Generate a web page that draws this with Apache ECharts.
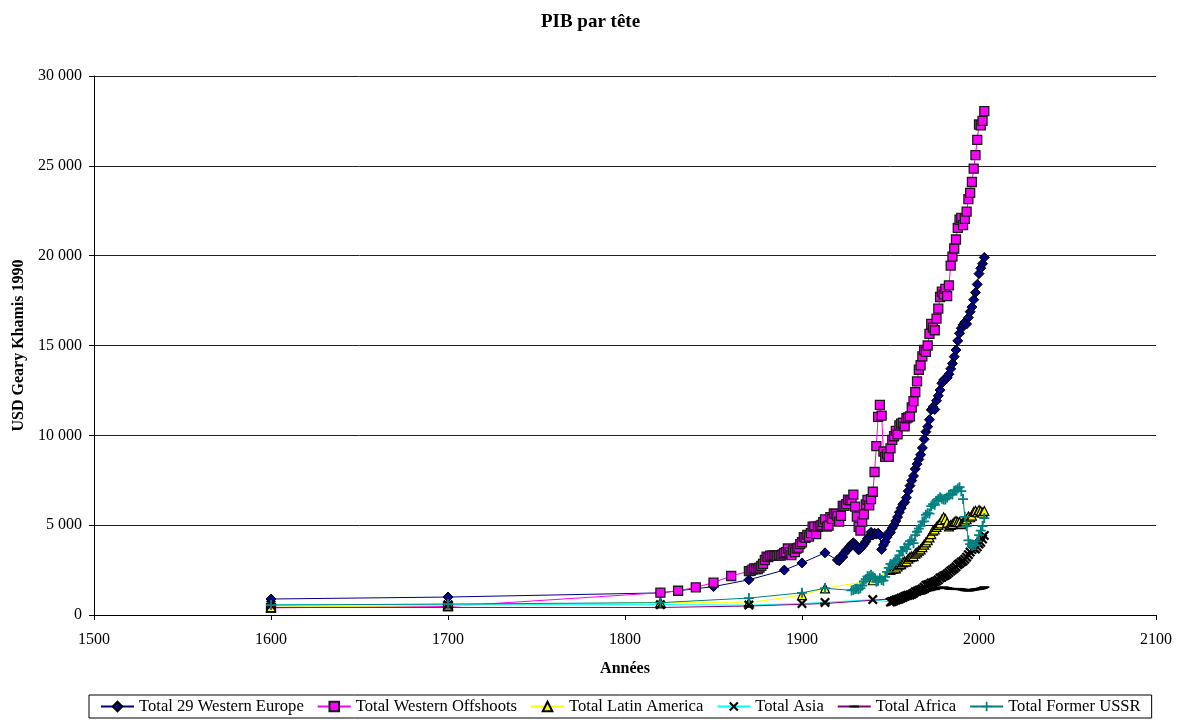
<!DOCTYPE html>
<html>
<head>
<meta charset="utf-8">
<script src="https://cdn.jsdelivr.net/npm/echarts@6/dist/echarts.min.js"></script>
<style>
html,body{margin:0;padding:0;background:#fff;}
#chart{width:1181px;height:722px;}
</style>
</head>
<body>
<div id="chart"></div>
<script>
// ---- Data (USD Geary-Khamis 1990, per capita) ----
const seriesNames = ["Total 29 Western Europe","Total Western Offshoots","Total Latin America","Total Asia","Total Africa","Total Former USSR"];

function yearsFrom(a, b){ const r=[]; for(let y=a;y<=b;y++) r.push(y); return r; }

const weYears = [1600,1700,1820,1850,1870,1890,1900,1913].concat(yearsFrom(1920,2003));
const weValues = [890,1000,1230,1580,1960,2500,2900,3460,
 3060,3020,3250,3230,3450,3600,3660,3820,3940,4020,
 3920,3750,3620,3700,3820,3940,4080,4250,4380,4600,
 4450,4550,4500,4550,4450,3650,3900,4080,4330,4580,
 4600,4840,5000,5230,5450,5720,5940,6160,6280,6530,
 6900,7200,7480,7740,8130,8400,8660,8920,9300,9780,
 10200,10480,10870,11420,11580,11440,11930,12200,12520,12900,
 13080,13100,13200,13400,13700,14000,14380,14750,15260,15680,
 15960,16150,16300,16200,16550,16880,17140,17550,17950,18400,
 19000,19300,19550,19900];

const woYears = [1600,1700,1820,1830,1840,1850,1860].concat(yearsFrom(1870,2003));
const woValues = [400,476,1240,1350,1540,1800,2170,
 2440,2460,2530,2590,2560,2560,2640,2730,2850,3060,
 3250,3220,3300,3310,3320,3300,3290,3330,3300,3370,
 3450,3500,3700,3480,3330,3600,3500,3700,3750,3950,
 4050,4330,4300,4460,4360,4560,4920,4920,4500,4900,
 4960,5020,5170,5320,4920,4970,5450,5350,5650,5620,
 5500,5200,5520,6070,6070,6170,6420,6380,6390,6700,
 6030,5470,4910,4700,5200,5600,6150,6400,6100,6450,
 6860,7960,9400,11030,11690,11100,9100,8800,8950,8800,
 9270,9750,9950,10250,10050,10550,10650,10700,10500,10950,
 11000,11050,11550,11900,12400,13000,13650,13900,14400,14750,
 14650,15000,15650,16200,16000,15850,16500,17050,17700,18000,
 17850,18150,17750,18350,19450,19950,20400,20900,21550,22000,
 22100,21700,22050,22450,23150,23500,24100,24850,25600,26450,
 27300,27250,27500,28040];

const laYears = [1600,1700,1820,1870,1900,1913,1940].concat(yearsFrom(1950,2003));
const laValues = [438,527,692,681,1109,1481,1933,
 2506,2560,2590,2600,2700,2800,2830,2930,2980,2990,
 3130,3220,3260,3280,3420,3490,3580,3650,3780,3920,
 4040,4160,4320,4500,4700,4760,4900,5010,5100,5300,
 5440,5340,5140,4930,5010,5060,5170,5230,5180,5170,
 5060,5150,5240,5330,5480,5440,5530,5740,5800,5720,
 5840,5780,5690,5790];

const asiaYears = [1600,1700,1820,1870,1900,1913,1940].concat(yearsFrom(1950,2003));
const asiaValues = [574,571,577,550,640,700,860,
 717,750,790,830,860,890,940,970,1030,1070,
 1100,1110,1150,1210,1290,1320,1380,1410,1460,1550,
 1650,1690,1710,1780,1800,1850,1890,1960,2060,2100,
 2170,2210,2280,2360,2450,2520,2590,2680,2790,2860,
 2950,3000,3100,3220,3360,3500,3640,3730,3680,3800,
 3950,4050,4230,4430];

const afYears = [1600,1700,1820,1870,1913].concat(yearsFrom(1950,2003));
const afValues = [422,421,420,500,637,
 894,910,925,935,960,970,985,990,990,1020,
 1060,1050,1080,1120,1150,1180,1190,1190,1220,1270,
 1340,1370,1380,1410,1440,1440,1490,1500,1500,1520,
 1540,1510,1500,1470,1450,1450,1450,1440,1450,1450,
 1430,1410,1380,1370,1360,1370,1400,1410,1430,1440,
 1450,1470,1500,1550];

const ussrYears = [1600,1700,1820,1870,1900,1913].concat(yearsFrom(1928,2003));
const ussrValues = [552,611,688,943,1237,1488,
 1370,1386,1448,1462,1439,1493,1630,1864,1991,2150,
 2150,2237,2144,2060,1850,1900,2050,1950,1913,2126,
 2402,2623,2841,2806,2937,3013,3106,3313,3566,3556,
 3771,3672,3945,4111,4155,3996,4448,4634,4804,4963,
 5202,5216,5575,5667,5643,6059,6176,6136,6363,6462,
 6559,6471,6427,6432,6535,6679,6731,6708,6920,6942,
 7043,7112,6894,6453,5462,4950,4150,3950,3840,3900,
 3893,4100,4450,4700,4950,5397];

const xTicks = {min:1500, max:2100, interval:100};
const yTicks = {min:0, max:30000, interval:5000};

function zip(xs, ys){ return xs.map((x,i)=>[x, ys[i]]); }

const FONT = "'Liberation Serif','Times New Roman',serif";
const X_PATH = 'path://M0,1.6 L1.6,0 L5,3.4 L8.4,0 L10,1.6 L6.6,5 L10,8.4 L8.4,10 L5,6.6 L1.6,10 L0,8.4 L3.4,5 Z';
const PLUS_PATH = 'path://M4.1,0 H5.9 V4.1 H10 V5.9 H5.9 V10 H4.1 V5.9 H0 V4.1 H4.1 Z';
// square bounding box (via moveTo points) with a horizontal dash drawn in the middle
const DASH_PATH = 'path://M0,0 M0,3.6 H9 V5.4 H0 Z M9,9';

function mk(name, xs, ys, line, symbol, size, fill, border, bw){
  return {
    name: name, type:'line', data: zip(xs, ys),
    symbol: symbol, symbolSize: size,
    showSymbol:true, showAllSymbol:true,
    lineStyle:{color: line, width:1},
    itemStyle:{color: fill, borderColor: border, borderWidth: bw},
    emphasis:{disabled:true}, animation:false, clip:true
  };
}

const series = [
  mk(seriesNames[0], weYears, weValues, '#000080', 'diamond', 10, '#000080', '#000000', 1),
  mk(seriesNames[1], woYears, woValues, '#FF00FF', 'rect', 9, '#FF00FF', '#1a1a1a', 1.3),
  mk(seriesNames[2], laYears, laValues, '#FFFF00', 'triangle', 9, '#FFFF00', '#000000', 1.2),
  mk(seriesNames[3], asiaYears, asiaValues, '#00FFFF', X_PATH, 10, '#000000', '#000000', 0),
  mk(seriesNames[4], afYears, afValues, '#800080', DASH_PATH, 10, '#000000', '#000000', 0),
  mk(seriesNames[5], ussrYears, ussrValues, '#008080', PLUS_PATH, 10, '#008080', '#008080', 0)
];

const chart = echarts.init(document.getElementById('chart'), null, {renderer:'canvas'});
chart.setOption({
  backgroundColor:'#ffffff',
  animation:false,
  title:{
    text:'PIB par tête', left:'center', top:8,
    textStyle:{fontFamily:FONT, fontSize:19, fontWeight:'bold', color:'#000'}
  },
  grid:{left:94, right:25, top:76, bottom:107, containLabel:false},
  xAxis:{
    type:'value', min:xTicks.min, max:xTicks.max, interval:xTicks.interval,
    name:'Années', nameLocation:'middle', nameGap:46,
    nameTextStyle:{fontFamily:FONT, fontSize:16, fontWeight:'bold', color:'#000'},
    axisLine:{show:true, onZero:false, lineStyle:{color:'#000', width:1}},
    axisTick:{show:true, inside:false, length:5, lineStyle:{color:'#000'}},
    axisLabel:{fontFamily:FONT, fontSize:16, color:'#000', margin:17,
      formatter: v => String(v)},
    splitLine:{show:false}
  },
  yAxis:{
    type:'value', min:yTicks.min, max:yTicks.max, interval:yTicks.interval,
    name:'USD Geary Khamis 1990', nameLocation:'middle', nameGap:66, nameRotate:90,
    nameTextStyle:{fontFamily:FONT, fontSize:16, fontWeight:'bold', color:'#000'},
    axisLine:{show:true, lineStyle:{color:'#000', width:1}},
    axisTick:{show:true, inside:false, length:5, lineStyle:{color:'#000'}},
    axisLabel:{fontFamily:FONT, fontSize:16, color:'#000', margin:12,
      formatter: v => String(v).replace(/\B(?=(\d{3})+(?!\d))/g, ' ')},
    splitLine:{show:true, lineStyle:{color:'#222', width:1}}
  },
  legend:{
    show:true, orient:'horizontal', left:89, top:695,
    itemWidth:33, itemHeight:12, itemGap:13,
    padding:[3,11,3,11],
    borderColor:'#000', borderWidth:1, borderRadius:0,
    textStyle:{fontFamily:FONT, fontSize:16.6, color:'#000'},
    data: seriesNames
  },
  series: series
});
</script>
</body>
</html>
